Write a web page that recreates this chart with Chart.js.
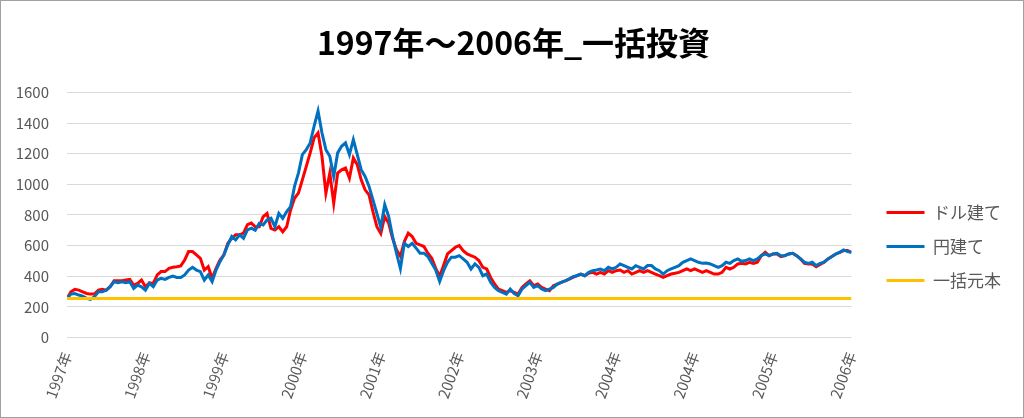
<!DOCTYPE html>
<html lang="ja">
<head>
<meta charset="utf-8">
<script src="https://cdn.jsdelivr.net/npm/chart.js@4.4.1/dist/chart.umd.min.js"></script>
<style>
  body { margin: 0; background: #fff; }
  #wrap { width: 1024px; height: 418px; box-sizing: border-box; border: 1px solid #a0a0a0; position: relative; }
</style>
</head>
<body>
<div id="wrap"><canvas id="chart"></canvas></div>
<script>
'use strict';

// x tick labels (Excel date axis, label every 20 points)
const xTickLabels = ['1997年', '1998年', '1999年', '2000年', '2001年', '2002年', '2003年', '2004年', '2004年', '2005年', '2006年'];
const yTicks = [0, 200, 400, 600, 800, 1000, 1200, 1400, 1600];
const seriesNames = ['ドル建て', '円建て', '一括元本'];

// ドル建て
const dollarValues = [
  255, 298, 314, 309, 298, 287, 283, 283, 309, 314, 309, 331, 371, 371, 371, 375, 379, 342, 353, 375,
  331, 357, 353, 408, 430, 430, 451, 458, 462, 467, 506, 561, 561, 539, 517, 440, 462, 386, 451, 506,
  539, 615, 648, 670, 670, 681, 736, 747, 723, 723, 788, 810, 712, 701, 723, 690, 723, 832, 909, 942,
  1029, 1117, 1205, 1303, 1336, 1183, 942, 1073, 876, 1073, 1095, 1106, 1040, 1172, 1128, 1029, 964, 931, 821, 723,
  679, 790, 747, 648, 572, 530, 626, 681, 659, 615, 604, 594, 550, 517, 451, 400, 470, 545, 567, 589,
  600, 567, 545, 534, 524, 502, 458, 447, 392, 349, 316, 305, 294, 305, 294, 283, 327, 349, 370, 338,
  349, 327, 316, 305, 338, 349, 360, 370, 381, 392, 403, 414, 403, 419, 425, 414, 425, 414, 436, 425,
  436, 440, 425, 436, 414, 425, 436, 425, 436, 425, 414, 403, 392, 403, 414, 419, 425, 436, 447, 436,
  447, 436, 425, 436, 425, 414, 414, 425, 458, 447, 458, 480, 484, 480, 491, 484, 491, 534, 556, 534,
  545, 545, 528, 534, 545, 550, 534, 513, 484, 480, 480, 462, 476, 491, 513, 528, 545, 556, 567, 567,
  556
];

// 円建て
const yenValues = [
  255, 283, 287, 277, 270, 255, 248, 266, 298, 298, 309, 331, 364, 357, 364, 357, 364, 320, 342, 331,
  309, 353, 331, 375, 386, 379, 392, 401, 392, 392, 408, 440, 458, 440, 430, 375, 408, 364, 440, 495,
  539, 604, 659, 637, 670, 648, 703, 714, 700, 745, 734, 767, 778, 723, 810, 778, 821, 854, 986, 1073,
  1194, 1226, 1270, 1380, 1478, 1336, 1226, 1183, 1051, 1205, 1248, 1270, 1194, 1292, 1194, 1095, 1051, 986, 898, 810,
  720, 867, 790, 659, 550, 450, 615, 594, 615, 583, 550, 550, 528, 484, 440, 365, 436, 491, 524, 524,
  534, 513, 491, 447, 480, 458, 403, 414, 360, 327, 305, 294, 283, 316, 287, 272, 316, 338, 360, 327,
  338, 316, 305, 316, 327, 349, 360, 370, 381, 397, 403, 414, 403, 425, 436, 440, 447, 436, 458, 447,
  458, 480, 469, 458, 447, 469, 458, 447, 469, 469, 447, 436, 414, 436, 447, 458, 469, 491, 502, 513,
  502, 491, 484, 486, 480, 469, 458, 469, 491, 484, 502, 513, 497, 502, 513, 502, 513, 534, 545, 534,
  545, 550, 534, 534, 545, 550, 534, 513, 491, 484, 491, 469, 484, 491, 513, 528, 545, 556, 572, 561,
  556
];

// 一括元本 (flat)
const principalValues = [255, 255];

const lastIndex = dollarValues.length - 1;
const tickStep = lastIndex / (xTickLabels.length - 1);
const font = '"Noto Sans CJK JP", "Noto Sans", sans-serif';

function toPoints(values, xs) {
  return values.map((v, i) => ({ x: xs ? xs[i] : i, y: v }));
}

let canvasElem = document.getElementById('chart');

new Chart(canvasElem, {
  type: 'line',
  data: {
    datasets: [
      { label: seriesNames[0], data: toPoints(dollarValues), borderColor: '#ff0000', backgroundColor: '#ff0000', borderWidth: 3, order: 3 },
      { label: seriesNames[1], data: toPoints(yenValues), borderColor: '#0070c0', backgroundColor: '#0070c0', borderWidth: 3, order: 2 },
      { label: seriesNames[2], data: toPoints(principalValues, [0, lastIndex]), borderColor: '#ffc000', backgroundColor: '#ffc000', borderWidth: 3, order: 1 }
    ]
  },
  options: {
    responsive: true,
    maintainAspectRatio: false,
    animation: false,
    elements: { point: { radius: 0 }, line: { tension: 0 } },
    layout: { padding: { left: 15, right: 12, top: 0, bottom: 12 } },
    plugins: {
      tooltip: { enabled: false },
      title: {
        display: true,
        text: '1997年～2006年_一括投資',
        color: '#000',
        font: { family: font, size: 32, weight: 'bold' },
        padding: { top: 23, bottom: 30 }
      },
      legend: {
        position: 'right',
        title: { display: true, text: ' ', font: { size: 10 }, padding: { top: 75, bottom: 0 } },
        labels: {
          boxWidth: 38,
          boxHeight: 3,
          padding: 17,
          color: '#595959',
          font: { family: font, size: 17 },
          generateLabels: chart => chart.data.datasets.map((ds, i) => ({
            text: ds.label,
            fillStyle: ds.borderColor,
            strokeStyle: ds.borderColor,
            lineWidth: 0,
            hidden: false,
            datasetIndex: i,
            fontColor: '#595959'
          }))
        }
      }
    },
    scales: {
      x: {
        type: 'linear',
        min: 0,
        max: lastIndex,
        afterBuildTicks: scale => {
          scale.ticks = xTickLabels.map((_, i) => ({ value: i * tickStep }));
        },
        afterFit: scale => {
          scale.paddingLeft = 0;
          scale.paddingRight = 0;
        },
        ticks: {
          autoSkip: false,
          minRotation: 70,
          maxRotation: 70,
          padding: 4,
          color: '#595959',
          font: { family: font, size: 15 },
          callback: (value) => xTickLabels[Math.round(value / tickStep)]
        },
        grid: { display: false },
        border: { display: false }
      },
      y: {
        min: 0,
        max: 1600,
        afterBuildTicks: scale => {
          scale.ticks = yTicks.map(v => ({ value: v }));
        },
        afterFit: scale => { scale.width = 51; },
        ticks: {
          padding: 18,
          color: '#595959',
          font: { family: font, size: 15 },
          callback: value => String(value)
        },
        grid: { color: '#d9d9d9', lineWidth: 1, drawTicks: false },
        border: { display: false }
      },
      spacer: {
        position: 'right',
        display: true,
        ticks: { display: false },
        grid: { display: false },
        border: { display: false },
        afterFit: scale => { scale.width = 18; }
      }
    }
  }
});
</script>
</body>
</html>
